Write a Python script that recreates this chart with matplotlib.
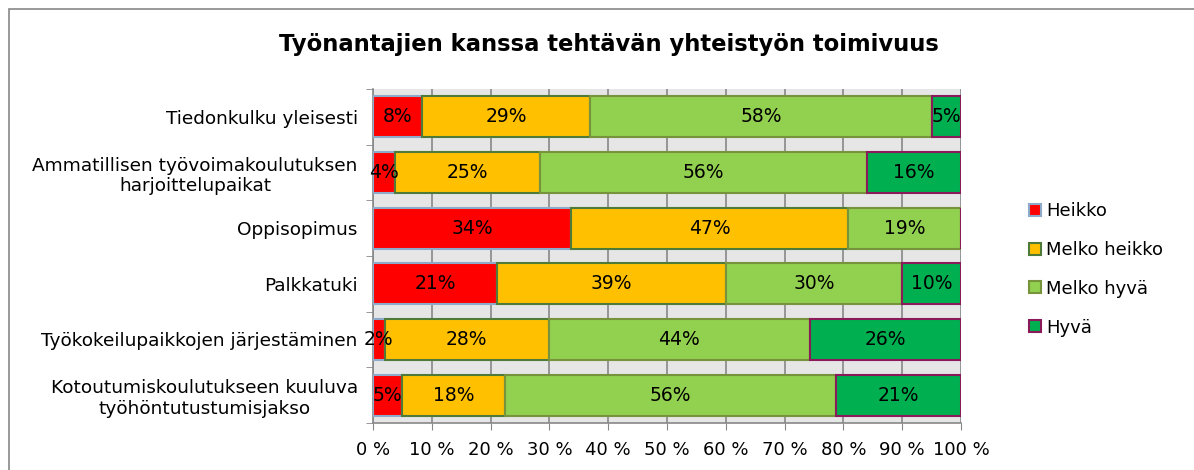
import matplotlib.pyplot as plt
from matplotlib.patches import Rectangle, Patch
import numpy as np

categories = ["Tiedonkulku yleisesti",
              "Ammatillisen työvoimakoulutuksen\nharjoittelupaikat",
              "Oppisopimus",
              "Palkkatuki",
              "Työkokeilupaikkojen järjestäminen",
              "Kotoutumiskoulutukseen kuuluva\ntyöhöntutustumisjakso"]
series = ["Heikko", "Melko heikko", "Melko hyvä", "Hyvä"]
heikko = [8.3, 3.7, 33.7, 21.1, 2.0, 4.9]
melko_heikko = [28.6, 24.7, 47.1, 38.9, 27.9, 17.5]
melko_hyva = [58.2, 55.6, 19.2, 30.0, 44.4, 56.3]
hyva = [4.9, 16.0, 0.0, 10.0, 25.7, 21.3]

colors = ["#ff0000", "#ffc000", "#92d050", "#00b050"]
edges = ["#8eaacb", "#4f7b3a", "#77933c", "#8b1a5a"]

fig = plt.figure(figsize=(11.94, 4.70), dpi=100)
ax = fig.add_axes([373/1194, 1-423/470, (961-373)/1194, (423-89)/470])
ax.set_facecolor("#e6e6e6")

y = np.arange(len(categories))
left = np.zeros(len(categories))
for vals, name, c, ec in zip([heikko, melko_heikko, melko_hyva, hyva], series, colors, edges):
    vals = np.array(vals)
    ax.barh(y, vals, left=left, height=0.74, color=c, edgecolor=ec, linewidth=1.5,
            label=name, zorder=3)
    for yi, l, v in zip(y, left, vals):
        if v > 0:
            ax.text(l + v/2, yi, f"{v:.0f}%", ha="center", va="center", fontsize=13.5, zorder=4)
    left += vals

ax.set_xlim(0, 100)
ax.set_ylim(len(categories)-0.5, -0.5)
ax.set_xticks(np.arange(0, 101, 10))
ax.set_xticklabels([f"{t} %" for t in range(0, 101, 10)], fontsize=13)
ax.set_yticks(y)
ax.set_yticklabels(categories, fontsize=13.3, multialignment="center")
ax.set_yticks(np.arange(-0.5, len(categories)), minor=True)
ax.tick_params(axis="y", which="major", length=0, pad=11)
ax.tick_params(axis="y", which="minor", length=5, color="#888888")
ax.tick_params(axis="x", length=5, color="#888888", pad=8)
ax.grid(axis="x", color="#888888", linewidth=1.2, zorder=1)
for s in ["top", "right"]:
    ax.spines[s].set_visible(False)
for s in ["left", "bottom"]:
    ax.spines[s].set_color("#888888")
    ax.spines[s].set_linewidth(1.2)

handles = [Patch(facecolor=c, edgecolor=ec, linewidth=1.5) for c, ec in zip(colors, edges)]
fig.legend(handles, series, loc="upper left", bbox_to_anchor=(1013/1194, 1-186/470),
           frameon=False, fontsize=13, handlelength=0.65, handleheight=0.65,
           handletextpad=0.3, labelspacing=1.15)

fig.text(0.51, 1-44/470, "Työnantajien kanssa tehtävän yhteistyön toimivuus",
         ha="center", va="center", fontsize=16.3, fontweight="bold")

fig.patches.append(Rectangle((9/1194, -0.1), 1.2, 1-9/470+0.1, transform=fig.transFigure,
                             fill=False, edgecolor="#888888", linewidth=1.2))

fig.savefig("out.png", dpi=100)
